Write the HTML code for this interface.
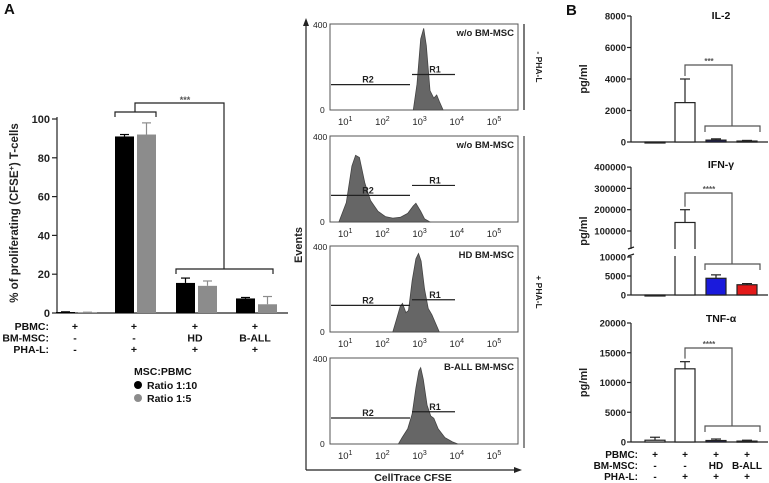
<!DOCTYPE html>
<html><head><meta charset="utf-8"><style>
html,body{margin:0;padding:0;background:#fff}
svg{display:block;font-family:"Liberation Sans",Arial,sans-serif;font-weight:bold}
</style></head><body>
<svg id="fig" width="769" height="483" viewBox="0 0 769 483" xmlns="http://www.w3.org/2000/svg">
<g id="pA"></g>
<g id="pH"></g>
<g id="pB"></g>
</svg>
<script>
// ===== Panel A bar chart data =====
const aGroups = ["PBMC only","PBMC+PHA-L","HD BM-MSC","B-ALL BM-MSC"];
const aRatio10 = [0.5, 91, 15.5, 7.5];
const aRatio10Err = [0.6, 92, 18, 8];
const aRatio5 = [0.3, 92, 14, 4.5];
const aRatio5Err = [0.4, 98, 16.5, 8.5];
const aTicks = [0,20,40,60,80,100];
// ===== Histogram data: [log10 CFSE, events] =====
const hist1 = [[2.75,0],[2.85,120],[2.95,330],[3.03,380],[3.1,300],[3.2,90],[3.3,55],[3.38,70],[3.45,40],[3.55,0]];
const hist2 = [[0.75,0],[0.95,90],[1.1,260],[1.2,310],[1.3,300],[1.45,180],[1.6,100],[1.8,50],[2.0,25],[2.2,18],[2.4,22],[2.6,40],[2.75,75],[2.82,87],[2.95,50],[3.05,15],[3.2,0]];
const hist3 = [[2.2,0],[2.3,60],[2.4,120],[2.46,133],[2.55,90],[2.62,100],[2.72,240],[2.82,340],[2.89,365],[2.96,330],[3.05,200],[3.15,110],[3.25,80],[3.35,40],[3.45,0]];
const hist4 = [[2.35,0],[2.45,30],[2.6,70],[2.72,140],[2.82,260],[2.9,340],[2.95,355],[3.02,300],[3.12,180],[3.22,130],[3.3,120],[3.42,70],[3.6,30],[3.8,10],[3.95,0]];
const histLabels = ["w/o BM-MSC","w/o BM-MSC","HD BM-MSC","B-ALL BM-MSC"];
const histTicks = [1,2,3,4,5];
// ===== Panel B data =====
const bColors = ["#fff","#fff","#1a1adc","#e31a1a"];
const il2 = [0, 2500, 120, 60];
const il2Err = [0, 4000, 200, 100];
const il2Ticks = [0,2000,4000,6000,8000];
const ifn = [0, 140000, 4400, 2700];
const ifnErr = [0, 200000, 5300, 3000];
const ifnTicks = [0,5000,10000,100000,200000,300000,400000];
const tnf = [300, 12300, 250, 150];
const tnfErr = [800, 13500, 500, 300];
const tnfTicks = [0,5000,10000,15000,20000];

const NS="http://www.w3.org/2000/svg";
function mk(parent,tag,attrs,text){const e=document.createElementNS(NS,tag);for(const k in attrs)e.setAttribute(k,attrs[k]);if(text!==undefined)e.textContent=text;parent.appendChild(e);return e;}
function line(p,x1,y1,x2,y2,c,w){return mk(p,"line",{x1,y1,x2,y2,stroke:c||"#222","stroke-width":w||1.2});}

// ===== Panel A =====
const A=document.getElementById("pA");
let t=mk(A,"text",{x:4,y:14,"font-size":15,fill:"#111"},"A");


const ay=v=>313-v*1.94;
line(A,57,ay(100)-2,57,313);line(A,57,313,288,313);
aTicks.forEach(v=>{line(A,52,ay(v),57,ay(v));
 const tx=mk(A,"text",{x:50,y:ay(v)+4,"font-size":11,"text-anchor":"end",fill:"#222"},String(v));
 
 });
t=mk(A,"text",{transform:"translate(18,213) rotate(-90)","font-size":11.5,"text-anchor":"middle",fill:"#222"},"% of proliferating (CFSE");


mk(t,"tspan",{"font-size":7.5,dy:-4},"+");mk(t,"tspan",{dy:4},") T-cells");
const aCenters=[76,135,196,256];
aGroups.forEach((g,i)=>{
 const c=aCenters[i];
 const x1=c-20,x2=c+2;
 const b1=mk(A,"rect",{x:x1,y:ay(aRatio10[i]),width:19,height:ay(0)-ay(aRatio10[i]),fill:"#000"});
 
 
 line(A,x1+9.5,ay(aRatio10[i]),x1+9.5,ay(aRatio10Err[i]),"#000",1.2);line(A,x1+5,ay(aRatio10Err[i]),x1+14,ay(aRatio10Err[i]),"#000",1.2);
 const b2=mk(A,"rect",{x:x2,y:ay(aRatio5[i]),width:19,height:ay(0)-ay(aRatio5[i]),fill:"#8c8c8c"});
 
 
 line(A,x2+9.5,ay(aRatio5[i]),x2+9.5,ay(aRatio5Err[i]),"#8c8c8c",1.2);line(A,x2+5,ay(aRatio5Err[i]),x2+14,ay(aRatio5Err[i]),"#8c8c8c",1.2);
});
const bk=mk(A,"path",{d:"M115,117 V112 H156 V117 M135,112 V103 H224 V269 M176,274 V269 H273 V274",fill:"none",stroke:"#222","stroke-width":1.2});


t=mk(A,"text",{x:185,y:103,"font-size":9,"text-anchor":"middle",fill:"#555"},"***");


const rows=[["PBMC:",["+","+","+","+"]],["BM-MSC:",["-","-","HD","B-ALL"]],["PHA-L:",["-","+","+","+"]]];
rows.forEach((r,j)=>{const y=330+j*11.5;
 const l=mk(A,"text",{x:49,y,"font-size":10.5,"text-anchor":"end",fill:"#111"},r[0]);
 
 
 r[1].forEach((s,i)=>{const v=mk(A,"text",{x:aCenters[i]-1,y,"font-size":10.5,"text-anchor":"middle",fill:"#111"},s);
  
  });});
t=mk(A,"text",{x:134,y:375,"font-size":10.5,"text-anchor":"start",fill:"#111"},"MSC:PBMC");


[["Ratio 1:10","#000"],["Ratio 1:5","#8c8c8c"]].forEach((e,i)=>{
 const g=mk(A,"g",{});
 
 
 mk(g,"circle",{cx:138,cy:385+i*13,r:4,fill:e[1]});
 mk(g,"text",{x:147,y:389+i*13,"font-size":10.5,fill:"#111"},e[0]);});

// ===== Histograms =====
const H=document.getElementById("pH");
line(H,306,24,306,470,"#222",1.2);line(H,306,470,516,470,"#222",1.2);
mk(H,"path",{d:"M306,18 L303,26 L309,26 Z",fill:"#222"});
mk(H,"path",{d:"M522,470 L514,467 L514,473 Z",fill:"#222"});
t=mk(H,"text",{transform:"translate(302,245) rotate(-90)","font-size":11,"text-anchor":"middle",fill:"#222"},"Events");


t=mk(H,"text",{x:413,y:481,"font-size":10.5,"text-anchor":"middle",fill:"#222"},"CellTrace CFSE");


const tops=[24,136,246,358],hh=86;
const hx=lg=>311+lg*37.2;
const gates=[[118,165],[124,170],[124,150],[121,150]];
[hist1,hist2,hist3,hist4].forEach((d,k)=>{
 const top=tops[k],bot=top+hh,hy=c=>bot-c*hh/400;
 const g=mk(H,"g",{});
 
 
 mk(g,"rect",{x:330,y:top,width:188,height:hh,fill:"#fff",stroke:"#555","stroke-width":1});
 let p="M"+hx(d[0][0])+","+hy(0);d.forEach(q=>p+=" L"+hx(q[0]).toFixed(1)+","+hy(q[1]).toFixed(1));p+=" Z";
 const pa=mk(g,"path",{d:p,fill:"#666",stroke:"#444","stroke-width":0.8});
 
 
 mk(g,"text",{x:313,y:top+4,"font-size":8.5,fill:"#222","font-weight":"normal"},"400");
 mk(g,"text",{x:320,y:bot+3,"font-size":8.5,fill:"#222","font-weight":"normal"},"0");
 histTicks.forEach(v=>{const tx=mk(g,"text",{x:hx(v)-3,y:bot+15,"font-size":9.5,fill:"#222","font-weight":"normal","text-anchor":"middle"},"10");
  mk(tx,"tspan",{"font-size":7,dy:-4},String(v));});
 const tl=mk(g,"text",{x:514,y:top+12,"font-size":9.5,"text-anchor":"end",fill:"#222"},histLabels[k]);
 
 
 const r2=hy(gates[k][0]),r1=hy(gates[k][1]);
 line(g,331,r2,410,r2,"#222",1.2);line(g,412,r1,455,r1,"#222",1.2);
 mk(g,"text",{x:368,y:r2-2,"font-size":9,"text-anchor":"middle",fill:"#222"},"R2");
 mk(g,"text",{x:435,y:r1-2,"font-size":9,"text-anchor":"middle",fill:"#222"},"R1");
});
line(H,524,24,524,110,"#222",1.2);line(H,524,136,524,448,"#666",1.5);
t=mk(H,"text",{transform:"translate(536,67) rotate(90)","font-size":8.5,"text-anchor":"middle",fill:"#222"},"- PHA-L");

t=mk(H,"text",{transform:"translate(536,292) rotate(90)","font-size":8.5,"text-anchor":"middle",fill:"#222"},"+ PHA-L");


// ===== Panel B =====
const B=document.getElementById("pB");
t=mk(B,"text",{x:566,y:15,"font-size":15,fill:"#111"},"B");

const bx=[655,685,716,747];
function cyto(name,title,vals,errs,ticks,yf,ty,brk){
 const g=mk(B,"g",{});
 
 
 const y0=yf(0);
 const tt=mk(g,"text",{x:721,y:ty,"font-size":10.5,"text-anchor":"middle",fill:"#111"},title);
 
 const top=yf(ticks[ticks.length-1]);
 if(name==="ifn"){line(g,631,top,631,249);line(g,631,256,631,y0);line(g,628,249,634,247);line(g,628,256,634,254);}
 else line(g,631,top,631,y0);
 line(g,631,y0,768,y0);
 ticks.forEach(v=>{line(g,627,yf(v),631,yf(v));
  const tx=mk(g,"text",{x:626,y:yf(v)+3.5,"font-size":9.5,"text-anchor":"end",fill:"#222"},String(v));
  });
 const yl=mk(g,"text",{transform:"translate(587,"+((top+y0)/2)+") rotate(-90)","font-size":11,"text-anchor":"middle",fill:"#222"},"pg/ml");
 
 vals.forEach((v,i)=>{
  const x=bx[i]-10,fill=(name==="ifn"?bColors[i]:(i>=2?"#1c1c6a":"#fff"));
  const r=mk(g,"rect",{x,y:yf(v),width:20,height:Math.max(y0-yf(v),1),fill,stroke:"#222","stroke-width":1.2});
  
  if(v>0){line(g,x+10,yf(v),x+10,yf(errs[i]));line(g,x+5,yf(errs[i]),x+15,yf(errs[i]));}
 });
 if(name==="ifn"){mk(g,"rect",{x:674,y:249,width:22,height:7,fill:"#fff"});}
 const b=mk(g,"path",{d:"M"+bx[1]+","+(yf(errs[1])-3)+" V"+brk[0]+" H732 V"+brk[1]+" M705,"+(brk[1]+6)+" V"+brk[1]+" H760 V"+(brk[1]+6),fill:"none",stroke:"#555","stroke-width":1.2});
 
 const st=mk(g,"text",{x:709,y:brk[0]-1,"font-size":8,"text-anchor":"middle",fill:"#555"},title==="IL-2"?"***":"****");
 
}
cyto("il2","IL-2",il2,il2Err,il2Ticks,v=>142-v*126/8000,19,[65,126]);
cyto("ifn","IFN-\u03b3",ifn,ifnErr,ifnTicks,v=>v<=10000?295-v*0.0038:231-(v-100000)*21.3/100000,168,[193,264]);
cyto("tnf","TNF-\u03b1",tnf,tnfErr,tnfTicks,v=>442-v*119/20000,322,[348,426]);
const brows=[["PBMC:",["+","+","+","+"]],["BM-MSC:",["-","-","HD","B-ALL"]],["PHA-L:",["-","+","+","+"]]];
brows.forEach((r,j)=>{const y=458+j*11;
 const l=mk(B,"text",{x:638,y,"font-size":10,"text-anchor":"end",fill:"#111"},r[0]);
 
 r[1].forEach((s,i)=>{const v=mk(B,"text",{x:bx[i],y,"font-size":10,"text-anchor":"middle",fill:"#111"},s);
  });});
</script>
</body></html>
